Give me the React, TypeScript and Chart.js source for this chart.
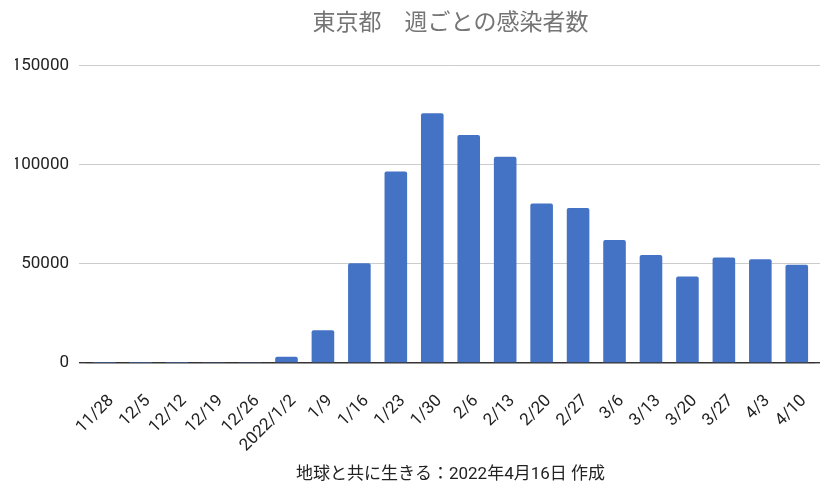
import { useEffect, useRef } from "react";
import { Chart, registerables } from "chart.js";

Chart.register(...registerables);

const weeks = [
  "11/28", "12/5", "12/12", "12/19", "12/26", "2022/1/2", "1/9", "1/16",
  "1/23", "1/30", "2/6", "2/13", "2/20", "2/27", "3/6", "3/13", "3/20",
  "3/27", "4/3", "4/10",
];

const cases = [
  100, 110, 130, 200, 500, 3200, 16550, 50300,
  96600, 126000, 115000, 104000, 80400, 78200, 62000, 54500, 43600,
  53200, 52300, 49600,
];

const yTicks = [0, 50000, 100000, 150000];

const FONT = "Roboto, 'Noto Sans CJK JP', sans-serif";

const lineColor = (ctx: any) => (ctx.tick && ctx.tick.value === 0 ? "#333333" : "#cccccc");
const lineWidth = (ctx: any) => (ctx.tick && ctx.tick.value === 0 ? 1.4 : 1);

const App = () => {
  const canvasRef = useRef<HTMLCanvasElement>(null);

  useEffect(() => {
    let chart: Chart | null = null;
    if (canvasRef.current) {
      chart = new Chart(canvasRef.current, {
        type: "bar",
        data: {
          labels: weeks,
          datasets: [
            {
              label: "感染者数",
              data: cases,
              backgroundColor: "#4472c4",
              borderRadius: { topLeft: 2, topRight: 2 },
              borderSkipped: "bottom",
              barPercentage: 0.62,
              categoryPercentage: 1,
            },
          ],
        },
        options: {
          animation: false,
          responsive: false,
          layout: { padding: { left: 15, right: 4, top: 0, bottom: 7 } },
          plugins: {
            legend: { display: false },
            tooltip: { enabled: false },
            title: {
              display: true,
              text: "東京都　週ごとの感染者数",
              color: "#757575",
              fullSize: false,
              font: { family: FONT, size: 23, weight: "normal" },
              padding: { top: 10, bottom: 28 },
            },
          },
          scales: {
            x: {
              grid: { display: false },
              border: { display: false },
              afterFit: (scale: any) => {
                scale.height = 122;
                scale.paddingLeft = 0;
                scale.paddingRight = 0;
              },
              ticks: {
                color: "#222222",
                font: { family: FONT, size: 17 },
                minRotation: 45,
                maxRotation: 45,
                autoSkip: false,
                labelOffset: 7,
                padding: 20,
              },
              title: {
                display: true,
                text: "地球と共に生きる：2022年4月16日 作成",
                color: "#222222",
                font: { family: FONT, size: 17 },
                padding: { top: 10, bottom: 0 },
              },
            },
            y: {
              min: 0,
              max: 150000,
              afterBuildTicks: (scale: any) => {
                scale.ticks = yTicks.map((v) => ({ value: v }));
              },
              afterFit: (scale: any) => {
                scale.width = 71;
              },
              grid: { color: lineColor, lineWidth: lineWidth, tickLength: 7, drawTicks: true },
              border: { display: false },
              ticks: {
                color: "#222222",
                font: { family: FONT, size: 17 },
                padding: 10,
                callback: (v: any) => String(v),
              },
            },
            y2: {
              position: "right",
              min: 0,
              max: 150000,
              afterBuildTicks: (scale: any) => {
                scale.ticks = yTicks.map((v) => ({ value: v }));
              },
              grid: {
                color: lineColor,
                lineWidth: lineWidth,
                tickLength: 5,
                drawTicks: true,
                drawOnChartArea: false,
              },
              border: { display: false },
              ticks: { display: false },
            },
          },
        },
      });
    }
    return () => {
      if (chart) chart.destroy();
    };
  }, []);

  return (
    <div style={{ position: "fixed", left: 0, top: 0, width: 824, height: 492, background: "#fff" }}>
      <canvas ref={canvasRef} width={824} height={492} />
    </div>
  );
};

export default App;
